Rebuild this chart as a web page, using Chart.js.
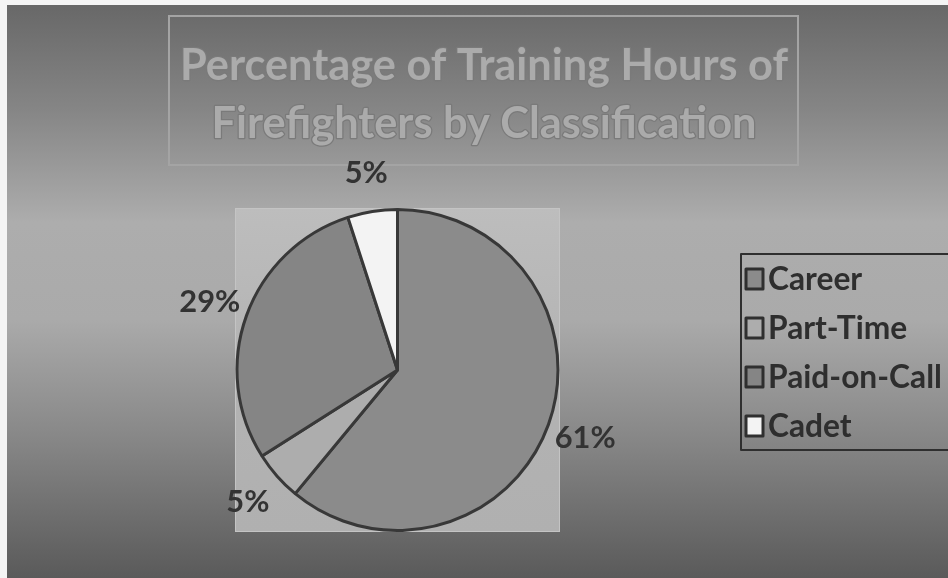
<!DOCTYPE html>
<html>
<head>
<meta charset="utf-8">
<script src="https://cdn.jsdelivr.net/npm/chart.js@4.4.0/dist/chart.umd.min.js"></script>
<style>
  html, body { margin: 0; padding: 0; background: #ffffff; }
  #wrap { width: 948px; height: 578px; position: relative; }
  canvas { display: block; }
</style>
</head>
<body>
<div id="wrap"><canvas id="c" width="948" height="578"></canvas></div>
<script>
// ---- data ----
const categories = ['Career', 'Part-Time', 'Paid-on-Call', 'Cadet'];
const percentages = [61, 5, 29, 5];
const titleLines = ['Percentage of Training Hours of', 'Firefighters by Classification'];

// ---- styles ----
const sliceColors = ['#8b8b8b', '#adadad', '#858585', '#f3f3f3'];
const borderColor = '#383838';
const FONT = 'Lato, "Open Sans", "DejaVu Sans", sans-serif';

function fitFont(ctx, weight, text, targetW) {
  ctx.font = weight + ' 40px ' + FONT;
  const w = ctx.measureText(text).width;
  return 40 * targetW / w;
}

const backgroundPlugin = {
  id: 'bg',
  beforeDraw(chart) {
    const ctx = chart.ctx;
    const W = chart.width, H = chart.height;
    ctx.save();
    ctx.fillStyle = '#f4f4f4';
    ctx.fillRect(0, 0, W, H);
    const g = ctx.createLinearGradient(0, 5, 0, H);
    g.addColorStop(0.00, '#686868');
    g.addColorStop(0.18, '#858585');
    g.addColorStop(0.38, '#adadad');
    g.addColorStop(0.55, '#aaaaaa');
    g.addColorStop(0.75, '#888888');
    g.addColorStop(1.00, '#5a5a5a');
    ctx.fillStyle = g;
    ctx.fillRect(7, 5, W - 7, H - 5);

    // plot area
    const a = chart.chartArea;
    const pg = ctx.createLinearGradient(0, a.top, 0, a.bottom);
    pg.addColorStop(0, '#bdbdbd');
    pg.addColorStop(0.5, '#b3b3b3');
    pg.addColorStop(1, '#b0b0b0');
    ctx.fillStyle = pg;
    ctx.fillRect(a.left, a.top, a.right - a.left, a.bottom - a.top);
    ctx.strokeStyle = '#c4c4c4';
    ctx.lineWidth = 1;
    ctx.strokeRect(a.left + 0.5, a.top + 0.5, a.right - a.left - 1, a.bottom - a.top - 1);

    // title box
    ctx.strokeStyle = '#a4a4a4';
    ctx.lineWidth = 2;
    ctx.strokeRect(169, 16, 629, 149);
    ctx.restore();
  },
  afterDraw(chart) {
    const ctx = chart.ctx;
    ctx.save();
    // title
    const ts = fitFont(ctx, 'bold', titleLines[0], 608);
    ctx.font = 'bold ' + ts + 'px ' + FONT;
    ctx.textAlign = 'center';
    ctx.textBaseline = 'alphabetic';
    ctx.lineJoin = 'round';
    const ys = [80, 138];
    titleLines.forEach((t, i) => {
      ctx.strokeStyle = '#7a7a7a';
      ctx.lineWidth = 2.5;
      ctx.strokeText(t, 484, ys[i]);
      ctx.fillStyle = '#ababab';
      ctx.fillText(t, 484, ys[i]);
    });

    // data labels
    const meta = chart.getDatasetMeta(0);
    const ls = fitFont(ctx, 'bold', '29%', 61);
    ctx.font = 'bold ' + ls + 'px ' + FONT;
    ctx.fillStyle = '#333333';
    ctx.textAlign = 'center';
    ctx.textBaseline = 'middle';
    meta.data.forEach((arc, i) => {
      const p = arc.getProps(['x', 'y', 'startAngle', 'endAngle', 'outerRadius'], true);
      const mid = (p.startAngle + p.endAngle) / 2;
      const R = p.outerRadius + 39;
      ctx.fillText(percentages[i] + '%', p.x + Math.cos(mid) * R, p.y + Math.sin(mid) * R);
    });

    // legend
    ctx.strokeStyle = '#2f2f2f';
    ctx.lineWidth = 2;
    ctx.strokeRect(741, 254, 220, 196);
    const gs = fitFont(ctx, 'bold', categories[2], 174);
    ctx.font = 'bold ' + gs + 'px ' + FONT;
    ctx.textAlign = 'left';
    ctx.textBaseline = 'middle';
    const ly = [279, 328, 377, 426];
    categories.forEach((c, i) => {
      ctx.fillStyle = sliceColors[i];
      ctx.fillRect(746, ly[i] - 10, 17, 20);
      ctx.strokeStyle = '#2f2f2f';
      ctx.lineWidth = 3;
      ctx.strokeRect(746, ly[i] - 10, 17, 20);
      ctx.fillStyle = '#2e2e2e';
      ctx.fillText(c, 768, ly[i] + 1);
    });
    ctx.restore();
  }
};

new Chart(document.getElementById('c'), {
  type: 'pie',
  data: {
    labels: categories,
    datasets: [{
      data: percentages,
      backgroundColor: sliceColors,
      borderColor: borderColor,
      borderWidth: 3
    }]
  },
  options: {
    responsive: false,
    animation: false,
    devicePixelRatio: 1,
    layout: { padding: { left: 235, right: 388, top: 208, bottom: 46 } },
    plugins: {
      legend: { display: false },
      title: { display: false },
      tooltip: { enabled: false }
    }
  },
  plugins: [backgroundPlugin]
});
</script>
</body>
</html>
